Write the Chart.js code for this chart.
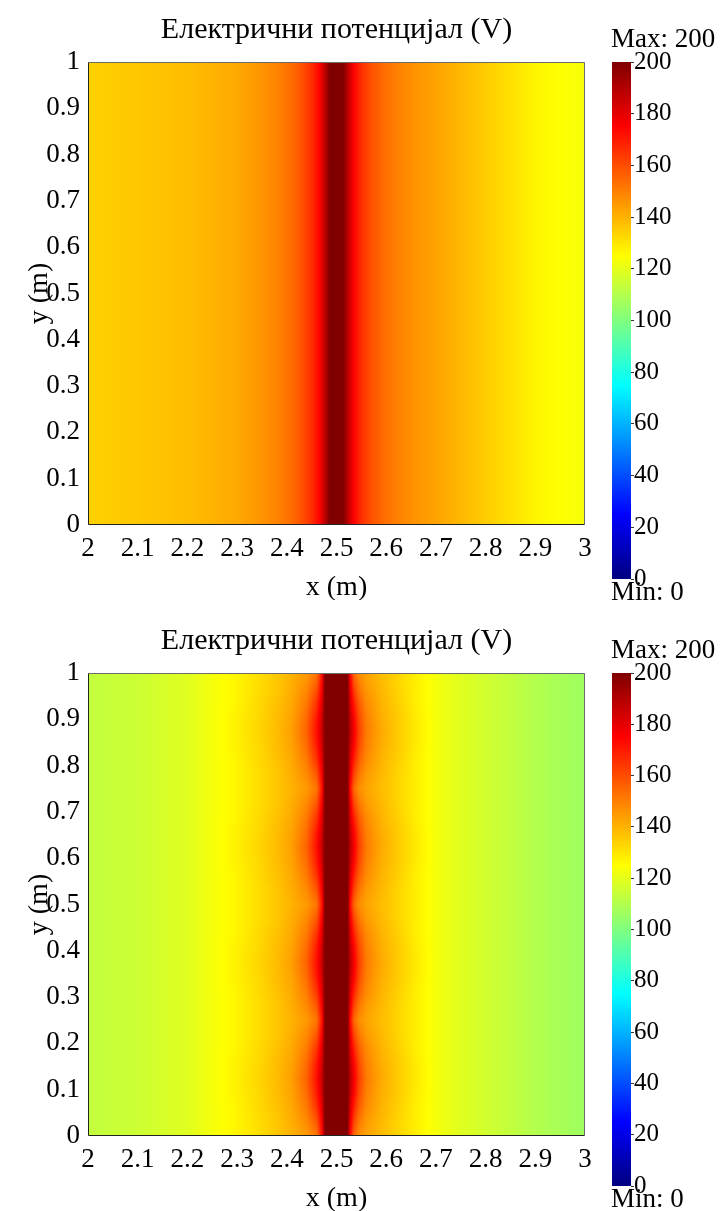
<!DOCTYPE html>
<html>
<head>
<meta charset="utf-8">
<script src="https://cdn.jsdelivr.net/npm/chart.js@4.4.1/dist/chart.umd.min.js"></script>
<style>
  body { margin: 0; background: #fff; width: 722px; height: 1211px; position: relative; overflow: hidden; }
  canvas { position: absolute; }
</style>
</head>
<body>
<canvas id="fieldTop" width="600" height="600" style="left:0;top:0"></canvas>
<canvas id="barTop" width="122" height="611" style="left:600px;top:0"></canvas>
<canvas id="fieldBottom" width="600" height="600" style="left:0;top:611px"></canvas>
<canvas id="barBottom" width="122" height="600" style="left:600px;top:611px"></canvas>
<script>
const TITLE = "Електрични потенцијал (V)";
const X_LABEL = "x (m)";
const Y_LABEL = "y (m)";

const xTicks = [2, 2.1, 2.2, 2.3, 2.4, 2.5, 2.6, 2.7, 2.8, 2.9, 3];
const yTicks = [0, 0.1, 0.2, 0.3, 0.4, 0.5, 0.6, 0.7, 0.8, 0.9, 1];
const barTicks = [0, 20, 40, 60, 80, 100, 120, 140, 160, 180, 200];
const potMin = 0;
const potMax = 200;

// top plot: potential only changes along x
const topX = [2.00, 2.05, 2.10, 2.15, 2.20, 2.25, 2.30, 2.34, 2.38, 2.41, 2.43, 2.45, 2.465, 2.477, 2.486,
              2.514, 2.523, 2.535, 2.55, 2.57, 2.60, 2.63, 2.66, 2.70, 2.75, 2.80, 2.85, 2.90, 2.95, 3.00];
const topY = [0, 1];
const topRow = [134, 135, 136, 137, 138, 140, 142, 145, 149, 154, 159, 166, 174, 188, 200,
                200, 188, 175, 166, 159, 153, 149, 146, 143, 139, 135, 131, 127, 125, 123];

// bottom plot: rod with four bulges along y
const bottomX = [2.00, 2.05, 2.10, 2.15, 2.20, 2.25, 2.30, 2.34, 2.38, 2.41, 2.44, 2.46, 2.47, 2.477, 2.522,
                 2.528, 2.535, 2.545, 2.56, 2.59, 2.62, 2.66, 2.70, 2.75, 2.80, 2.85, 2.90, 2.95, 3.00];
const bottomY = [0, 0.03125, 0.0625, 0.09375, 0.125, 0.15625, 0.1875, 0.21875, 0.25,
                 0.28125, 0.3125, 0.34375, 0.375, 0.40625, 0.4375, 0.46875, 0.5,
                 0.53125, 0.5625, 0.59375, 0.625, 0.65625, 0.6875, 0.71875, 0.75,
                 0.78125, 0.8125, 0.84375, 0.875, 0.90625, 0.9375, 0.96875, 1];
const neckRow = [113, 114, 115, 117, 119, 123, 127, 131, 136, 140, 145, 152, 170, 200, 200,
                 172, 155, 147, 143, 138, 134, 128, 123, 119, 116, 113, 110, 108, 106];
const lowRow  = [113, 114, 115, 117, 119, 123, 127, 131, 136, 141, 148, 158, 175, 200, 200,
                 178, 162, 152, 145, 139, 134, 128, 123, 119, 116, 113, 110, 108, 106];
const midRow  = [113, 114, 115, 117, 119, 123, 127, 132, 137, 142, 151, 165, 179, 200, 200,
                 182, 169, 157, 148, 140, 135, 128, 123, 119, 116, 113, 110, 108, 106];
const highRow = [113, 114, 115, 117, 119, 123, 128, 132, 138, 143, 154, 170, 183, 200, 200,
                 186, 175, 161, 150, 141, 136, 129, 123, 119, 116, 113, 110, 108, 106];
const peakRow = [113, 114, 115, 117, 119, 123, 128, 133, 138, 144, 156, 172, 185, 200, 200,
                 188, 177, 163, 151, 142, 136, 129, 123, 119, 116, 113, 110, 108, 106];
const bottomRows = [
  neckRow, lowRow, midRow, highRow, peakRow, highRow, midRow, lowRow,
  neckRow, lowRow, midRow, highRow, peakRow, highRow, midRow, lowRow,
  neckRow, lowRow, midRow, highRow, peakRow, highRow, midRow, lowRow,
  neckRow, lowRow, midRow, highRow, peakRow, highRow, midRow, lowRow,
  neckRow
];

const serif = "'Liberation Serif', 'Times New Roman', serif";
const tickFont = { family: serif, size: 27 };
const barFont = { family: serif, size: 25 };
const axisFont = { family: serif, size: 28, lineHeight: 1 };
const titleSize = 30;

function jet(v) {
  const t = Math.min(1, Math.max(0, (v - potMin) / (potMax - potMin)));
  const c = (u) => Math.round(255 * Math.min(1, Math.max(0, 1.5 - Math.abs(4 * t - u))));
  return [c(3), c(2), c(1)];
}

function locate(arr, v) {
  let i = 0;
  while (i < arr.length - 2 && v > arr[i + 1]) i++;
  const f = (v - arr[i]) / (arr[i + 1] - arr[i]);
  return [i, Math.min(1, Math.max(0, f))];
}

const fmt = (v) => String(+v.toFixed(1));

// paints the potential map inside the plot area, pixel by pixel through the scales
const fieldPlugin = {
  id: "field",
  beforeDatasetsDraw(chart, args, opts) {
    const { ctx, chartArea: a, scales: { x, y } } = chart;
    const w = Math.round(a.right - a.left), h = Math.round(a.bottom - a.top);
    const img = ctx.createImageData(w, h);
    const g = opts.rows;
    for (let j = 0; j < h; j++) {
      const [r, fy] = locate(opts.ys, y.getValueForPixel(a.top + j + 0.5));
      for (let i = 0; i < w; i++) {
        const [c, fx] = locate(opts.xs, x.getValueForPixel(a.left + i + 0.5));
        const v = (1 - fy) * ((1 - fx) * g[r][c] + fx * g[r][c + 1]) +
                  fy * ((1 - fx) * g[r + 1][c] + fx * g[r + 1][c + 1]);
        const col = jet(v), k = (j * w + i) * 4;
        img.data[k] = col[0]; img.data[k + 1] = col[1]; img.data[k + 2] = col[2]; img.data[k + 3] = 255;
      }
    }
    ctx.putImageData(img, Math.round(a.left), Math.round(a.top));
  },
  afterDraw(chart) {
    const { ctx, chartArea: a } = chart;
    const l = Math.round(a.left) + 0.5, t = Math.round(a.top) + 0.5;
    const r = Math.round(a.right) - 0.5, b = Math.round(a.bottom) - 0.5;
    ctx.save();
    ctx.lineWidth = 1;
    ctx.strokeStyle = "#6b6b6b";
    ctx.beginPath(); ctx.moveTo(l, t); ctx.lineTo(r, t); ctx.lineTo(r, b); ctx.stroke();
    ctx.strokeStyle = "#222";
    ctx.beginPath(); ctx.moveTo(l, t); ctx.lineTo(l, b); ctx.lineTo(r, b); ctx.stroke();
    ctx.fillStyle = "#000";
    ctx.font = `${titleSize}px ${serif}`;
    ctx.textAlign = "center";
    ctx.textBaseline = "middle";
    ctx.fillText(TITLE, (a.left + a.right) / 2, a.top - 32);
    ctx.restore();
  }
};

const colorbarPlugin = {
  id: "colorbar",
  beforeDatasetsDraw(chart) {
    const { ctx, chartArea: a, scales: { y } } = chart;
    for (let j = Math.round(a.top); j < Math.round(a.bottom); j++) {
      const col = jet(y.getValueForPixel(j + 0.5));
      ctx.fillStyle = `rgb(${col[0]},${col[1]},${col[2]})`;
      ctx.fillRect(a.left, j, a.right - a.left, 1);
    }
  },
  afterDraw(chart) {
    const { ctx, chartArea: a } = chart;
    ctx.save();
    ctx.fillStyle = "#000";
    ctx.font = `27px ${serif}`;
    ctx.textAlign = "left";
    ctx.textBaseline = "middle";
    ctx.fillText(`Max: ${potMax}`, a.left - 1, a.top - 22);
    ctx.fillText(`Min: ${potMin}`, a.left - 1, a.bottom + 14);
    ctx.restore();
  }
};

function fieldChart(id, xs, ys, rows) {
  const points = [];
  ys.forEach((yv, j) => xs.forEach((xv, i) => points.push({ x: xv, y: yv, v: rows[j][i] })));
  return new Chart(document.getElementById(id), {
    type: "scatter",
    data: { datasets: [{ data: points, pointRadius: 0, pointHoverRadius: 0 }] },
    options: {
      responsive: false,
      animation: false,
      devicePixelRatio: 1,
      events: [],
      layout: { padding: { top: 62, right: 15, left: 0, bottom: 0 } },
      plugins: { legend: { display: false }, tooltip: { enabled: false }, field: { xs, ys, rows } },
      scales: {
        x: {
          type: "linear", min: xTicks[0], max: xTicks[xTicks.length - 1],
          afterBuildTicks: (s) => { s.ticks = xTicks.map((value) => ({ value })); },
          afterFit: (s) => { s.height = 75; s.paddingLeft = 0; s.paddingRight = 0; },
          ticks: { callback: fmt, font: tickFont, color: "#000", padding: 8, maxRotation: 0, autoSkip: false },
          grid: { display: false, drawTicks: false },
          border: { display: false },
          title: { display: true, text: X_LABEL, font: axisFont, color: "#000", padding: { top: 0, bottom: -2 } }
        },
        y: {
          type: "linear", min: yTicks[0], max: yTicks[yTicks.length - 1],
          afterBuildTicks: (s) => { s.ticks = yTicks.map((value) => ({ value })); },
          afterFit: (s) => { s.width = 88; s.paddingTop = 0; s.paddingBottom = 0; },
          ticks: { callback: fmt, font: tickFont, color: "#000", padding: 8, autoSkip: false },
          grid: { display: false, drawTicks: false },
          border: { display: false },
          title: { display: true, text: Y_LABEL, font: axisFont, color: "#000", padding: { top: 26, bottom: 0 } }
        }
      }
    },
    plugins: [fieldPlugin]
  });
}

function barChart(id, padBottom) {
  return new Chart(document.getElementById(id), {
    type: "scatter",
    data: { datasets: [] },
    options: {
      responsive: false,
      animation: false,
      devicePixelRatio: 1,
      events: [],
      layout: { padding: { left: 12, top: 62, bottom: padBottom, right: 0 } },
      plugins: { legend: { display: false }, tooltip: { enabled: false } },
      scales: {
        x: { display: false, min: 0, max: 1 },
        y: {
          position: "right", min: potMin, max: potMax,
          afterBuildTicks: (s) => { s.ticks = barTicks.map((value) => ({ value })); },
          afterFit: (s) => { s.width = 91; s.paddingTop = 0; s.paddingBottom = 0; },
          ticks: { font: barFont, color: "#000", padding: 0, autoSkip: false },
          grid: { drawOnChartArea: false, drawTicks: true, tickLength: 3, color: "#333" },
          border: { display: false }
        }
      }
    },
    plugins: [colorbarPlugin]
  });
}

fieldChart("fieldTop", topX, topY, [topRow, topRow]);
barChart("barTop", 32);
fieldChart("fieldBottom", bottomX, bottomY, bottomRows);
barChart("barBottom", 25);
</script>
</body>
</html>
